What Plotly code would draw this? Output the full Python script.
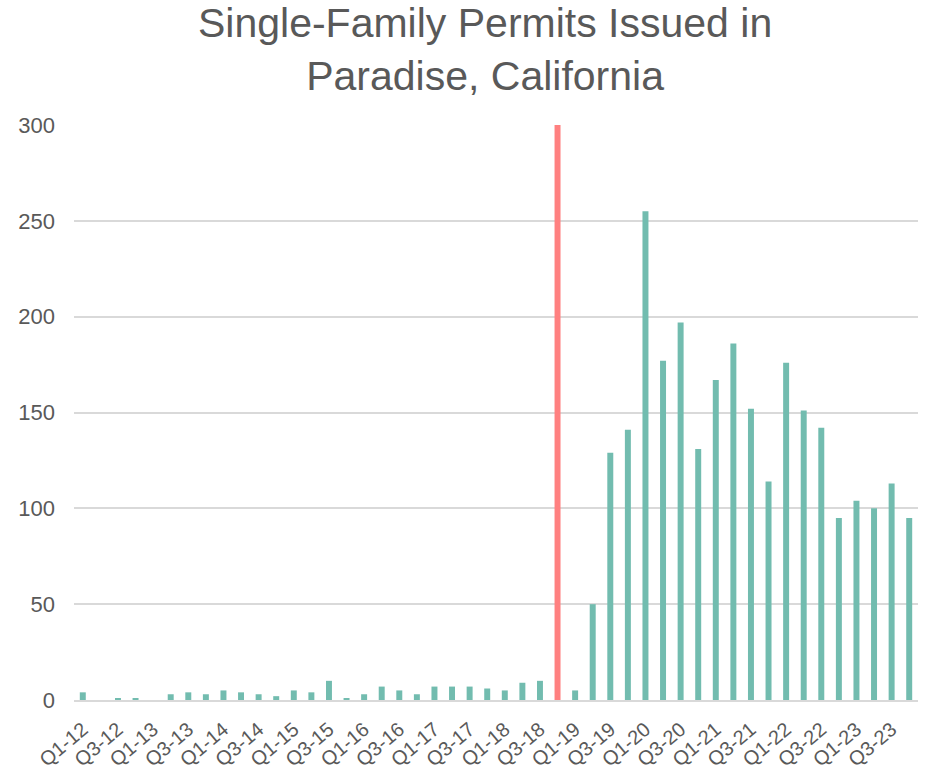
import plotly.graph_objects as go

quarters = [f"Q{q}-{y}" for y in range(12, 24) for q in range(1, 5)]
permits = [
    4, 0, 1, 1,        # 2012
    0, 3, 4, 3,        # 2013
    5, 4, 3, 2,        # 2014
    5, 4, 10, 1,       # 2015
    3, 7, 5, 3,        # 2016
    7, 7, 7, 6,        # 2017
    5, 9, 10, 300,     # 2018 (Q4-18 marker bar)
    5, 50, 129, 141,   # 2019
    255, 177, 197, 131,  # 2020
    167, 186, 152, 114,  # 2021
    176, 151, 142, 95,   # 2022
    104, 100, 113, 95,   # 2023
]
highlight_quarter = "Q4-18"
tick_labels = [q for q in quarters if q.startswith("Q1") or q.startswith("Q3")]
title_text = "Single-Family Permits Issued in<br>Paradise, California"

teal = "#72BCAF"
red = "#FF8080"
colors = [red if q == highlight_quarter else teal for q in quarters]

fig = go.Figure(go.Bar(x=quarters, y=permits, marker=dict(color=colors, line=dict(width=0))))

fig.update_layout(
    width=928, height=774,
    margin=dict(l=74, r=10, t=125, b=74, autoexpand=False),
    paper_bgcolor="white", plot_bgcolor="white",
    bargap=0.66,
    showlegend=False,
    font=dict(family="Liberation Sans, Arial, sans-serif", color="#595959"),
    annotations=[dict(
        text=title_text, showarrow=False,
        xref="paper", yref="paper", x=0.487, y=1 + 76 / 575,
        xanchor="center", yanchor="middle", align="center",
        font=dict(size=41, color="#595959"),
    )],
)
fig.update_xaxes(
    type="category", automargin=False,
    tickmode="array", tickvals=tick_labels, ticktext=tick_labels,
    tickangle=-40, tickfont=dict(size=20, color="#595959"),
    showgrid=False, showline=True, linecolor="#d9d9d9", linewidth=2,
    ticks="", ticklabelstandoff=8,
)
fig.update_yaxes(
    range=[0, 300], tickvals=[0, 50, 100, 150, 200, 250, 300], automargin=False,
    tickfont=dict(size=22, color="#595959"),
    showgrid=True, gridcolor="#d9d9d9", gridwidth=1.5,
    zeroline=False, showline=False, ticks="", ticklabelstandoff=18,
)

# remove the page's default body margin so the figure fills the window exactly
fig.write_html(
    "out.html",
    config={"displayModeBar": False},
    post_script="document.body.style.margin='0';",
)
